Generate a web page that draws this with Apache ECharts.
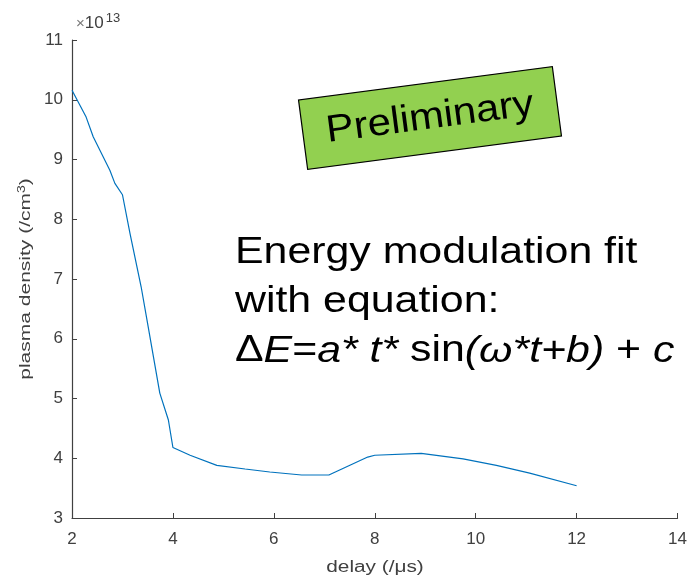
<!DOCTYPE html>
<html>
<head>
<meta charset="utf-8">
<script src="https://cdn.jsdelivr.net/npm/echarts@6/dist/echarts.min.js"></script>
<style>
  html, body { margin: 0; padding: 0; background: #fff; }
  #chart { width: 690px; height: 580px; }
</style>
</head>
<body>
<div id="chart"></div>
<script>
// delay (µs) and plasma density (x 1e13 /cm^3)
const delay = [2, 2.28, 2.42, 2.75, 2.85, 3, 3.15, 3.37, 3.51, 3.74, 3.91, 4,
    4.34, 4.87, 5.43, 5.92, 6.55, 7.09, 7.86, 8, 8.92, 9.75, 10.41, 11.07, 12];
const density = [10.16, 9.71, 9.38, 8.82, 8.6, 8.41, 7.76, 6.87, 6.2, 5.09, 4.64, 4.18,
    4.05, 3.88, 3.82, 3.77, 3.72, 3.72, 4.02, 4.05, 4.08, 3.99, 3.88, 3.75, 3.54];
const x_ticks = { min: 2, max: 14, step: 2 };
const y_ticks = { min: 3, max: 11, step: 1 };

const FONT = "Liberation Sans";
const AXIS_COLOR = "#404040";

const chart = echarts.init(document.getElementById("chart"), null, { renderer: "canvas" });

const axis_common = {
    axisLine: { lineStyle: { color: AXIS_COLOR, width: 1.2 } },
    axisTick: { inside: true, length: 5, lineStyle: { color: AXIS_COLOR } },
    axisLabel: { color: AXIS_COLOR, fontFamily: FONT, fontSize: 17 },
    splitLine: { show: false },
};

chart.setOption({
    animation: false,
    grid: { left: 72, right: 12, top: 40, bottom: 62 },
    xAxis: {
        ...axis_common,
        type: "value",
        min: x_ticks.min,
        max: x_ticks.max,
        interval: x_ticks.step,
        axisLabel: { ...axis_common.axisLabel, margin: 13 },
    },
    yAxis: {
        ...axis_common,
        type: "value",
        min: y_ticks.min,
        max: y_ticks.max,
        interval: y_ticks.step,
        axisLabel: { ...axis_common.axisLabel, margin: 9 },
    },
    series: [{
        type: "line",
        data: delay.map((d, i) => [d, density[i]]),
        showSymbol: false,
        lineStyle: { color: "#0072BD", width: 1.2 },
    }],
    graphic: [
        // axis names drawn here so they can be widened like the original
        {
            type: "text",
            x: 375,
            y: 568,
            scaleX: 1.3,
            style: {
                text: "delay (/μs)",
                align: "center", verticalAlign: "middle",
                fontFamily: FONT, fontSize: 16, fill: AXIS_COLOR,
            },
        },
        {
            type: "text",
            x: 26,
            y: 279,
            rotation: Math.PI / 2,
            scaleX: 1.4,
            style: {
                text: "plasma density (/cm{s|3})",
                align: "center", verticalAlign: "middle",
                fontFamily: FONT, fontSize: 15, fill: AXIS_COLOR,
                rich: { s: { fontSize: 10, verticalAlign: "top", fill: AXIS_COLOR, fontFamily: FONT, padding: [0, 0, 7, 0] } },
            },
        },
        {
            type: "text",
            left: 76,
            top: 12,
            style: {
                text: "{x|×}{b|10}{e|13}",
                rich: {
                    x: { fontSize: 15, fill: "#777", fontFamily: FONT },
                    b: { fontSize: 17, fill: AXIS_COLOR, fontFamily: FONT },
                    e: { fontSize: 13, fill: AXIS_COLOR, fontFamily: FONT, verticalAlign: "top", padding: [0, 0, 10, 2] },
                },
            },
        },
        {
            type: "group",
            x: 430,
            y: 118,
            rotation: 7.5 * Math.PI / 180,
            children: [
                {
                    type: "rect",
                    shape: { x: -128, y: -35, width: 256, height: 70 },
                    style: { fill: "#92D050", stroke: "#000", lineWidth: 1.2 },
                },
                {
                    type: "text",
                    scaleX: 1.1,
                    style: {
                        text: "Preliminary",
                        x: 0, y: 0,
                        align: "center", verticalAlign: "middle",
                        fontFamily: FONT, fontSize: 38, fill: "#000",
                    },
                },
            ],
        },
        {
            type: "text",
            x: 235,
            y: 229,
            scaleX: 1.19,
            style: {
                text: "Energy modulation fit\nwith equation:\n{n|Δ}{i|E}{n|=}{i|a*}{n| }{i|t*}{n| sin}{i|(ω*t+b)}{n| + }{i|c}",
                fontFamily: FONT, fontSize: 36, fill: "#000", lineHeight: 49,
                rich: {
                    n: { fontFamily: FONT, fontSize: 36, fill: "#000", lineHeight: 49 },
                    i: { fontFamily: FONT, fontSize: 36, fill: "#000", fontStyle: "italic", lineHeight: 49 },
                },
            },
        },
    ],
});
</script>
</body>
</html>
